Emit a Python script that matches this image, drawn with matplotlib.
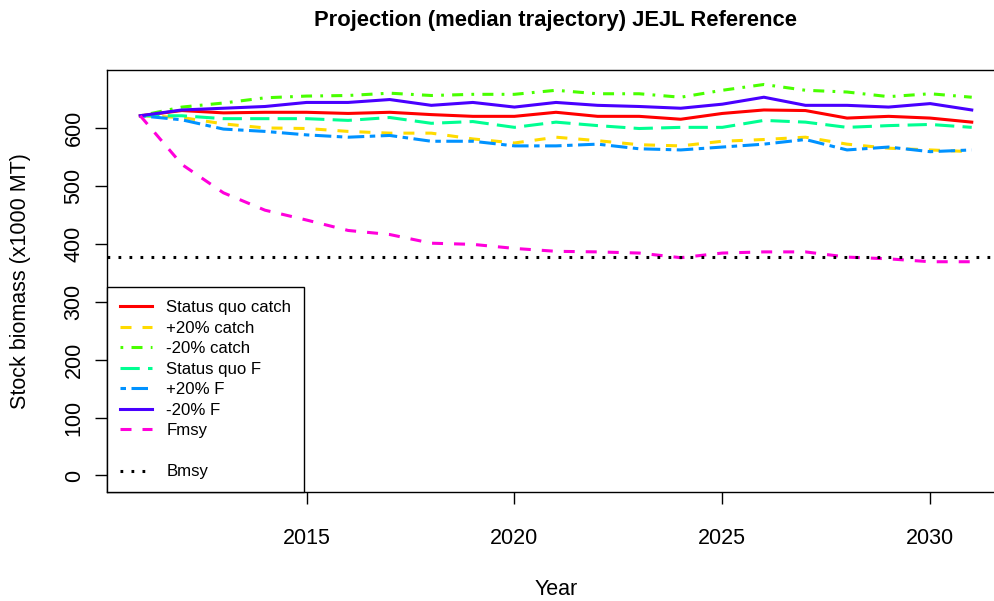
import matplotlib
matplotlib.use("Agg")
import matplotlib.pyplot as plt
from matplotlib.lines import Line2D

plt.rcParams['font.family'] = ['Liberation Sans', 'DejaVu Sans']

years = list(range(2011, 2032))

status_quo_catch = [621, 630, 626, 627, 627, 625, 627, 623, 620, 620, 627,
                    620, 620, 615, 625, 631, 630, 617, 620, 617, 610]
plus20_catch = [621, 618, 607, 600, 599, 594, 591, 591, 581, 574, 584,
                578, 571, 569, 577, 580, 584, 572, 565, 562, 559]
minus20_catch = [621, 636, 643, 652, 655, 656, 660, 656, 658, 658, 665,
                 659, 659, 653, 665, 675, 665, 662, 654, 659, 653]
status_quo_F = [621, 621, 616, 616, 616, 613, 618, 608, 611, 601, 610,
                604, 599, 601, 601, 613, 610, 601, 604, 606, 601]
plus20_F = [621, 614, 598, 594, 588, 584, 587, 577, 577, 569, 569,
            572, 564, 562, 567, 572, 580, 562, 567, 559, 562]
minus20_F = [621, 631, 634, 637, 644, 644, 649, 639, 644, 636, 644,
             639, 637, 634, 641, 653, 639, 639, 636, 642, 631]
fmsy = [621, 537, 488, 458, 441, 423, 416, 401, 399, 392, 387,
        386, 384, 376, 384, 386, 386, 377, 374, 369, 369]
bmsy = 378

labels = ["Status quo catch", "+20% catch", "-20% catch", "Status quo F",
          "+20% F", "-20% F", "Fmsy"]
colors = ["#FF0000", "#FFDB00", "#49FF00", "#00FF92", "#0092FF", "#4900FF", "#FF00DB"]
u = 0.9
styles = ["-", (0, (4*u, 4*u)), (0, (1*u, 3*u, 4*u, 3*u)), (0, (7*u, 3*u)),
          (0, (2*u, 2*u, 6*u, 2*u)), "-", (0, (4*u, 4*u))]
series = [status_quo_catch, plus20_catch, minus20_catch, status_quo_F,
          plus20_F, minus20_F, fmsy]

W, H = 995, 601
fig = plt.figure(figsize=(W/100, H/100), dpi=100)
ax = fig.add_axes([107/W, (H-492)/H, 898/W, 422/H])

lw = 2.2
handles = []
for s, c, ls, lab in zip(series, colors, styles, labels):
    h, = ax.plot(years, s, color=c, linestyle=ls, linewidth=lw, label=lab)
    handles.append(h)
bl = ax.axhline(bmsy, color="black", linestyle=(0, (1*u, 3*u)), linewidth=lw)

ax.set_xlim(2010.2, 2031.8)
ax.set_ylim(-28.5, 700)
ax.set_xticks([2015, 2020, 2025, 2030])
ax.set_yticks([0, 100, 200, 300, 400, 500, 600])
ax.tick_params(axis='both', direction='out', length=8.6, width=1.0,
               labelsize=15.5, color='black')
ax.tick_params(axis='x', pad=17.5)
ax.tick_params(axis='y', pad=7.5)
for t in ax.get_yticklabels():
    t.set_rotation(90)
    t.set_va('center')
for sp in ax.spines.values():
    sp.set_linewidth(1.0)
    sp.set_color('black')

ax.set_title("Projection (median trajectory) JEJL Reference",
             fontsize=15.8, fontweight='bold', pad=31.5)
ax.set_xlabel("Year", fontsize=15.5)
ax.xaxis.set_label_coords(0.5, -(579-492)/422)
ax.set_ylabel("Stock biomass (x1000 MT)", fontsize=15.5)
ax.yaxis.set_label_coords((31.5-107)/898, 0.5)

blank = Line2D([], [], linestyle='none')
leg_handles = handles + [blank, bl]
leg_labels = labels + [" ", "Bmsy"]
leg = ax.legend(leg_handles, leg_labels, loc='lower left',
                bbox_to_anchor=(0, 0), borderaxespad=0, fontsize=12.1,
                frameon=True, fancybox=False, edgecolor='black',
                handlelength=1.9, handletextpad=0.88, borderpad=0.75,
                labelspacing=0.33)
leg.get_frame().set_linewidth(1.0)
leg.get_frame().set_alpha(1)

fig.savefig("out.png", dpi=100)
